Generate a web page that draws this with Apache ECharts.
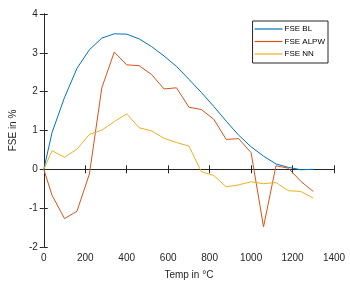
<!DOCTYPE html>
<html><head><meta charset="utf-8">
<script src="https://cdn.jsdelivr.net/npm/echarts@6/dist/echarts.min.js"></script>
<style>html,body{margin:0;padding:0;background:#fff}#c{width:350px;height:285px}</style>
</head><body><div id="c"></div>
<script>
var temps = [0,40,100,160,220,280,340,400,460,520,580,640,700,760,820,880,940,1000,1060,1120,1180,1240,1300];
var fseBL = [0,0.95,1.85,2.6,3.08,3.38,3.49,3.48,3.36,3.16,2.92,2.65,2.32,1.98,1.62,1.24,0.88,0.58,0.34,0.14,0.05,-0.01,0.0];
var fseALPW = [0,-0.67,-1.27,-1.08,-0.12,2.10,3.02,2.69,2.67,2.44,2.07,2.10,1.60,1.54,1.29,0.77,0.79,0.43,-1.48,0.09,0.03,-0.31,-0.57];
var fseNN = [0,0.48,0.31,0.52,0.90,1.01,1.23,1.43,1.07,0.99,0.80,0.69,0.60,-0.06,-0.16,-0.45,-0.40,-0.32,-0.37,-0.34,-0.55,-0.57,-0.74];
var seriesNames = ['FSE BL','FSE ALPW','FSE NN'];
var colors = ['#0072BD','#D95319','#EDB120'];

function pairs(v){ return temps.map(function(t,i){ return [t, v[i]]; }); }
var font = 'Liberation Sans, Arial, sans-serif';
var axCol = '#262626';
var chart = echarts.init(document.getElementById('c'), null, {renderer:'canvas'});
var lineAx = {show:true, lineStyle:{color:axCol, width:1}};
function fmt(v){ return String(v); }
chart.setOption({
  animation:false,
  backgroundColor:'#fff',
  grid:{left:37, right:16, top:14, bottom:36},
  legend:{
    orient:'vertical', right:22, top:21,
    data:seriesNames.map(function(n){ return {name:n, icon:'rect'}; }),
    itemWidth:28, itemHeight:1.2, itemGap:2.5,
    padding:[3,3,4,2],
    borderColor:axCol, borderWidth:1, backgroundColor:'#fff',
    textStyle:{fontFamily:font, fontSize:8, lineHeight:10, color:'#000', padding:[0,0,0,-3]}
  },
  xAxis:[{
    type:'value', min:0, max:1400, interval:200, position:'bottom',
    name:'Temp in °C', nameLocation:'middle', nameGap:23,
    nameTextStyle:{fontFamily:font, fontSize:10, color:axCol},
    axisLine:lineAx, axisTick:{inside:true, length:4, lineStyle:{color:axCol}},
    axisLabel:{fontFamily:font, fontSize:10, color:axCol, margin:6, formatter:fmt},
    splitLine:{show:false}
  },{
    type:'value', min:0, max:1400, interval:200, position:'top',
    axisLine:lineAx, axisTick:{inside:true, length:4, lineStyle:{color:axCol}},
    axisLabel:{show:false}, splitLine:{show:false}
  }],
  yAxis:[{
    type:'value', min:-2, max:4, interval:1, position:'left',
    name:'FSE in %', nameLocation:'middle', nameGap:18,
    nameTextStyle:{fontFamily:font, fontSize:10, color:axCol},
    axisLine:lineAx, axisTick:{inside:true, length:4, lineStyle:{color:axCol}},
    axisLabel:{fontFamily:font, fontSize:10, color:axCol, margin:6, formatter:fmt},
    splitLine:{show:false}
  },{
    type:'value', min:-2, max:4, interval:1, position:'right',
    axisLine:lineAx, axisTick:{inside:true, length:4, lineStyle:{color:axCol}},
    axisLabel:{show:false}, splitLine:{show:false}
  }],
  series:[fseBL, fseALPW, fseNN].map(function(v,i){
    return {
      name:seriesNames[i], type:'line', data:pairs(v),
      xAxisIndex:0, yAxisIndex:0,
      symbol:'none', lineStyle:{color:colors[i], width:1}, itemStyle:{color:colors[i]}
    };
  })
});
</script></body></html>
